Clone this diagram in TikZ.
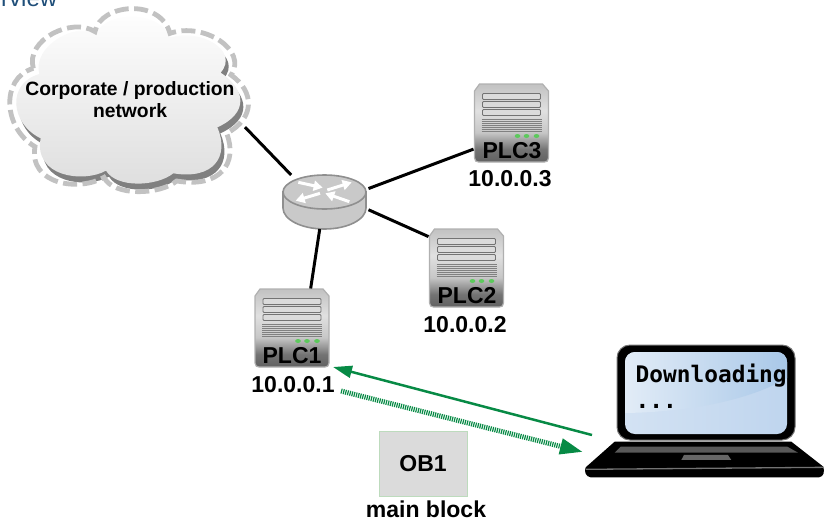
\documentclass[tikz,border=0pt]{standalone}
\usepackage{fontspec}
\setmainfont{Liberation Sans}
\newfontfamily\monof{DejaVu Sans Mono}
\usetikzlibrary{arrows.meta}
\definecolor{dlgreen}{HTML}{078A45}
\definecolor{titleblue}{HTML}{1F4E79}
\definecolor{dashgray}{HTML}{C2C2C2}
\definecolor{shadowgray}{HTML}{808080}
\definecolor{routerfill}{HTML}{C9C9C9}
\definecolor{routeredge}{HTML}{8F8F8F}
\definecolor{srvedge}{HTML}{B0B0B0}
\definecolor{scrA}{HTML}{E2ECF7}
\definecolor{scrB}{HTML}{A9C8E8}
\definecolor{scrC}{HTML}{D3E2F3}
\definecolor{scrD}{HTML}{BFD5EE}
\pgfdeclareverticalshading{srvshade}{100bp}{
  color(0bp)=(black!62); color(25bp)=(black!62); color(33bp)=(black!55); color(44bp)=(black!22);
  color(58bp)=(black!12); color(75bp)=(black!24); color(100bp)=(black!24)}
\tikzset{
  lbl/.style={font=\fontsize{23}{26}\selectfont\bfseries,inner sep=0pt,text=black},
  cloudlbl/.style={font=\fontsize{19.3}{22}\selectfont\bfseries,inner sep=0pt,align=center,text=black},
  boxhold/.style={inner sep=0pt,outer sep=0pt,minimum width=#1},
  link/.style={draw=black,line width=3pt},
  dlsolid/.style={draw=dlgreen,line width=2.5pt,{Triangle[length=19pt,width=12pt]}-},
  dlfine/.style={draw=dlgreen,line width=5pt,dash pattern=on 1.2pt off 1pt,-{Triangle[length=23pt,width=15pt]}},
  barbox/.style={draw=black!55,line width=.9pt,fill=black!14,rounded corners=1pt},
  rarrow/.style={draw=white,line width=3pt,-{Triangle[length=9pt,width=10pt]}}
}
\newcommand{\cloudpath}{(118,222) .. controls (95,140) and (230,60) .. (290,105)
  .. controls (300,40) and (470,20) .. (512,112)
  .. controls (600,85) and (720,150) .. (662,218)
  .. controls (740,270) and (745,340) .. (652,382)
  .. controls (690,470) and (640,540) .. (520,520)
  .. controls (470,560) and (350,565) .. (318,512)
  .. controls (250,550) and (100,530) .. (122,415)
  .. controls (30,370) and (20,250) .. (118,222) -- cycle}
\newcommand{\cloudouter}{(100,205) .. controls (75,120) and (215,50) .. (285,95)
  .. controls (300,12) and (480,-8) .. (510,100)
  .. controls (610,65) and (745,150) .. (693,225)
  .. controls (765,275) and (765,355) .. (680,400)
  .. controls (715,490) and (660,565) .. (530,543)
  .. controls (480,585) and (340,590) .. (312,532)
  .. controls (240,575) and (85,555) .. (105,440)
  .. controls (10,385) and (0,235) .. (100,205) -- cycle}
% \servergfx{x-left}{y-top}
\newcommand{\servergfx}[2]{%
 \begin{scope}[shift={(#1,#2)}]
  \path[shading=srvshade,draw=srvedge,line width=1.2pt]
    (1,8) -- (6,1) -- (69,1) -- (75,8) -- (75,75) .. controls (75,78) and (73,79) .. (71,79) -- (5,79) .. controls (3,79) and (1,78) .. (1,75) -- cycle;
  \draw[barbox] (9,10.5) rectangle (67,16.5);
  \draw[barbox] (9,18.5) rectangle (67,24.5);
  \draw[barbox] (9,26.5) rectangle (67,32.5);
  \foreach \yy in {36,38,40,42,44,46,48}{\draw[black!50,line width=.5pt] (8,\yy) -- (68,\yy);}
  \foreach \xx in {44,53,63}{\fill[green!50!gray!85] (\xx,53) ellipse (2.8 and 2);}
 \end{scope}}
\begin{document}
\begin{tikzpicture}[x=1pt,y=-1pt]
\useasboundingbox (0,0) rectangle (824,520);
% title fragment
\node[anchor=base west,inner sep=0pt,text=titleblue,font=\fontsize{24}{28}\selectfont] (ttl) at (1,6.5) {rview};
% cloud
\begin{scope}[shift={(3,6)},x=.3333pt,y=-.3333pt]
 \fill[shadowgray] \cloudpath;
\end{scope}
\begin{scope}[x=.3333pt,y=-.3333pt]
 \shade[left color=white,right color=black!13,shading angle=0] \cloudpath;
 \draw[dashgray,line width=4.8pt,dash pattern=on 14pt off 5.5pt] \cloudouter;
\end{scope}
\node[boxhold=235pt,minimum height=184pt] (cloud) at (127.5,100) {};
\node[cloudlbl] (cloudtxt) at (130,100) {Corporate / production\\network};
% router
\node[boxhold=88pt,minimum height=54pt] (router) at (324.5,202) {};
\draw[routeredge,line width=1.6pt,fill=routerfill] (283,192) -- (283,208) arc[start angle=180,end angle=360,x radius=41.5,y radius=-21] -- (366,192) -- cycle;
\draw[routeredge,line width=1.6pt,fill=routerfill] (324.5,192) ellipse (41.5 and 17);
\begin{scope}[shift={(240,150)},x=.3333pt,y=-.3333pt]
 \draw[rarrow] (175,97) -- (248,113);
 \draw[rarrow] (262,120) -- (335,97);
 \draw[rarrow] (240,130) -- (167,152);
 \draw[rarrow] (328,155) -- (256,130);
\end{scope}
% servers
\node[boxhold=76pt,minimum height=80pt] (plc1) at (292,328.5) {};
\node[boxhold=76pt,minimum height=80pt] (plc2) at (466.5,268.5) {};
\node[boxhold=76pt,minimum height=80pt] (plc3) at (511.5,123.5) {};
\servergfx{254}{288}
\servergfx{428.5}{228}
\servergfx{473.5}{83}
\node[lbl] (plc1lbl) at (292,356) {PLC1};
\node[lbl] (plc2lbl) at (467,296) {PLC2};
\node[lbl] (plc3lbl) at (512,151) {PLC3};
\node[lbl] (ip1) at (293,385) {10.0.0.1};
\node[lbl] (ip2) at (465,325) {10.0.0.2};
\node[lbl] (ip3) at (510,179) {10.0.0.3};
% links
\draw[link] (cloud.-13.4) -- (router.141);
\draw[link] (router.17) -- (plc3.214);
\draw[link] (router.-10) -- (plc2.140);
\draw[link] (router.-100) -- (plc1.65);
% OB1
\node[draw=green!30!gray!40,fill=black!14,line width=1pt,minimum width=88pt,minimum height=65pt,inner sep=0pt] (ob) at (423,463.5) {};
\node[lbl] (obt) at (423,464) {OB1};
\node[lbl] (obc) at (426,509.5) {main block};
% laptop
\node[boxhold=242pt,minimum height=132pt] (laptop) at (705,411) {};
\begin{scope}[shift={(574,335)},x=.3333pt,y=-.3333pt]
 \fill[black] (122,320) -- (652,320) -- (748,395) .. controls (752,410) and (750,425) .. (735,427) -- (50,427) .. controls (35,425) and (30,410) .. (35,397) -- cycle;
 \fill[black!65] (140,335) -- (640,335) -- (672,353) -- (122,353) -- cycle;
 \fill[black!60] (330,360) -- (462,360) -- (472,375) -- (322,375) -- cycle;
 \draw[black!55,line width=1.3pt] (36,403) -- (748,397);
\end{scope}
\draw[black!55,line width=1pt,fill=black,rounded corners=13pt] (617,345) rectangle (795,440);
\begin{scope}
 \path[clip,rounded corners=10pt] (625,352) rectangle (787,434);
 \shade[left color=scrC,right color=scrD] (625,352) rectangle (787,434);
 \shade[left color=scrA,right color=scrB] (625,352) -- (787,352) -- (787,378) .. controls (750,400) and (690,412) .. (625,413) -- cycle;
\end{scope}
\node[anchor=base west,inner sep=0pt,font=\monof\fontsize{22.8}{26}\selectfont\bfseries] (dl) at (635.5,382) {Downloading};
\node[anchor=base west,inner sep=0pt,font=\monof\fontsize{22.8}{26}\selectfont\bfseries] (dots) at (635.5,408) {...};
% download arrows
\coordinate (rxtip) at (333,367);
\coordinate (rxtail) at (592,435);
\coordinate (txtail) at (341,391);
\coordinate (txtip) at (583,452);
\draw[dlsolid] (rxtip) -- (rxtail);
\draw[dlfine] (txtail) -- (txtip);
\end{tikzpicture}
\end{document}
